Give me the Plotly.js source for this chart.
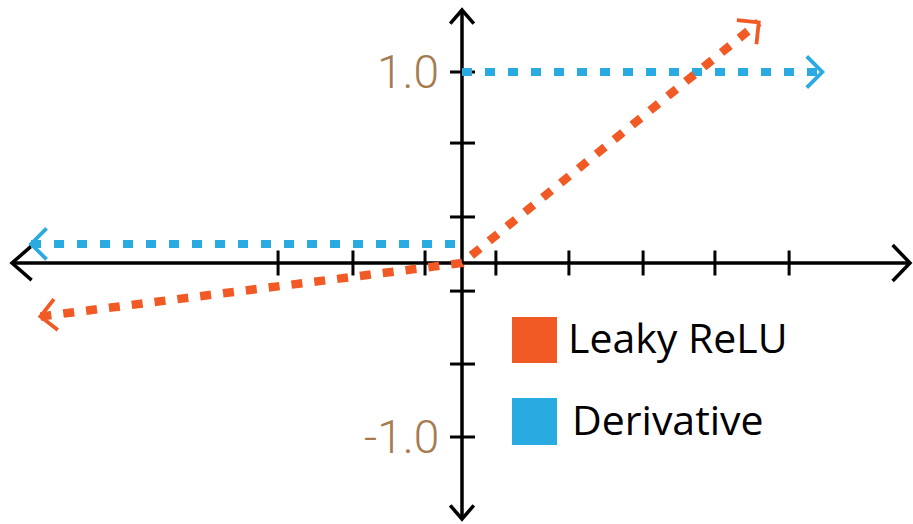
<!DOCTYPE html>
<html><head><meta charset="utf-8">
<script src="https://cdn.plot.ly/plotly-3.0.1.min.js"></script>
<style>html,body{margin:0;padding:0;background:#fff}#chart{width:913px;height:524px}</style>
</head><body><div id="chart"></div>
<script>
// ---- data ----
const seriesNames = ["Leaky ReLU", "Derivative"];
const reluX = [-1.79, 0, 1.26];
const reluY = [-0.28, 0, 1.26];
const derivX = [-1.83, 0, null, 0, 1.53];
const derivY = [0.1, 0.1, null, 1.0, 1.0];
const yTickVals = [1.0, 0.628, 0.241, -0.147, -0.529, -0.911];
const yTickText = ["1.0", "", "", "", "", "-1.0"];
const xTickVals = [-0.781, -0.463, -0.157, 0.144, 0.454, 0.769, 1.074, 1.389];
const seriesColors = ["#F15A24", "#29ABE2"];

// ---- layout geometry (pixels) ----
const W = 913, H = 524, OX = 462, OY = 263, KX = 235.5, KY = 191;
const xr = [-OX / KX, (W - OX) / KX], yr = [-(H - OY) / KY, OY / KY];
const px2x = p => (p - OX) / KX, py2y = p => (OY - p) / KY;
const ddx = p => p / KX, ddy = p => p / KY;

const shapes = [];
function line(x0, y0, x1, y1, color, width, layer) {
  shapes.push({type: 'line', xref: 'x', yref: 'y', x0, y0, x1, y1, layer: layer || 'below',
    line: {color, width}});
}
// chevron with tip at data (tx,ty), direction (ux,uy) in pixel space (y up)
function chevron(tx, ty, ux, uy, len, angDeg, color, width, layer) {
  const n = Math.hypot(ux, uy); ux /= n; uy /= n;
  const a = angDeg * Math.PI / 180;
  const pts = [a, -a].map(t => {
    const bx = -ux, by = -uy;
    const rx = bx * Math.cos(t) - by * Math.sin(t);
    const ry = bx * Math.sin(t) + by * Math.cos(t);
    return [tx + ddx(rx * len), ty + ddy(ry * len)];
  });
  shapes.push({type: 'path', xref: 'x', yref: 'y', layer: layer || 'below',
    path: `M${pts[0][0]},${pts[0][1]} L${tx},${ty} L${pts[1][0]},${pts[1][1]}`,
    line: {color, width}});
}

// axes
line(px2x(13), 0, px2x(909), 0, '#000', 3.5);
line(0, py2y(11), 0, py2y(518), '#000', 3.5);
chevron(px2x(12), 0, -1, 0, 26, 41, '#000', 3.5);
chevron(px2x(910), 0, 1, 0, 25, 46, '#000', 3.5);
chevron(0, py2y(10), 0, 1, 18, 41, '#000', 3.5);
chevron(0, py2y(519), 0, -1, 18, 41, '#000', 3.5);
// ticks
xTickVals.forEach(v => line(v, ddy(12.5), v, -ddy(12.5), '#000', 3));
yTickVals.forEach(v => line(-ddx(12), v, ddx(13), v, '#000', 3));

// split series into pieces at nulls
function pieces(xs, ys) {
  const segs = [];
  let cur = [];
  xs.forEach((x, i) => { if (x === null) { segs.push(cur); cur = []; } else cur.push([x, ys[i]]); });
  segs.push(cur);
  return segs;
}
const reluSegs = pieces(reluX, reluY);
const dSegs = pieces(derivX, derivY);
function arrowAt(tip, prev, color) {
  chevron(tip[0], tip[1], (tip[0] - prev[0]) * KX, (tip[1] - prev[1]) * KY, 22, 45, color, 3.8, 'above');
}
// Leaky ReLU: both ends
arrowAt(reluSegs[0][0], reluSegs[0][1], seriesColors[0]);
arrowAt(reluSegs[0][reluSegs[0].length - 1], reluSegs[0][reluSegs[0].length - 2], seriesColors[0]);
// Derivative: left end of first piece, right end of last piece
arrowAt(dSegs[0][0], dSegs[0][1], seriesColors[1]);
const last = dSegs[dSegs.length - 1];
arrowAt(last[last.length - 1], last[last.length - 2], seriesColors[1]);

// legend squares
const legendRows = [[317, 363], [398, 445]];
const legendTextX = [566, 570];
legendRows.forEach((r, i) => shapes.push({type: 'rect', xref: 'x', yref: 'y', layer: 'above',
  x0: px2x(512), x1: px2x(557), y0: py2y(r[0]), y1: py2y(r[1]),
  fillcolor: seriesColors[i], line: {width: 0}}));

const annotations = [];
legendRows.forEach((r, i) => annotations.push({xref: 'x', yref: 'y', x: px2x(legendTextX[i]), y: py2y((r[0] + r[1]) / 2 - 3),
  xanchor: 'left', yanchor: 'middle', showarrow: false, text: seriesNames[i],
  font: {family: 'Open Sans, Noto Sans, sans-serif', size: 41, color: '#000'}}));
yTickVals.forEach((v, i) => { if (yTickText[i]) annotations.push({xref: 'x', yref: 'y', x: 0, y: v, xshift: -21,
  xanchor: 'right', yanchor: 'middle', showarrow: false, text: yTickText[i],
  font: {family: 'Roboto, sans-serif', size: 46, weight: 300, color: '#A67B50'}}); });

const traces = [
  {x: derivX, y: derivY, name: seriesNames[1], mode: 'lines', connectgaps: false, hoverinfo: 'none',
   line: {color: seriesColors[1], width: 8, dash: '10px,13px'}},
  {x: reluX, y: reluY, name: seriesNames[0], mode: 'lines', hoverinfo: 'none',
   line: {color: seriesColors[0], width: 8.5, dash: '11px,12px'}}
];

Plotly.newPlot('chart', traces, {
  width: W, height: H, autosize: false,
  margin: {l: 0, r: 0, t: 0, b: 0, pad: 0},
  paper_bgcolor: '#fff', plot_bgcolor: '#fff', showlegend: false,
  xaxis: {range: xr, visible: false, fixedrange: true},
  yaxis: {range: yr, visible: false, fixedrange: true},
  shapes, annotations
}, {displayModeBar: false, staticPlot: true});
</script></body></html>
